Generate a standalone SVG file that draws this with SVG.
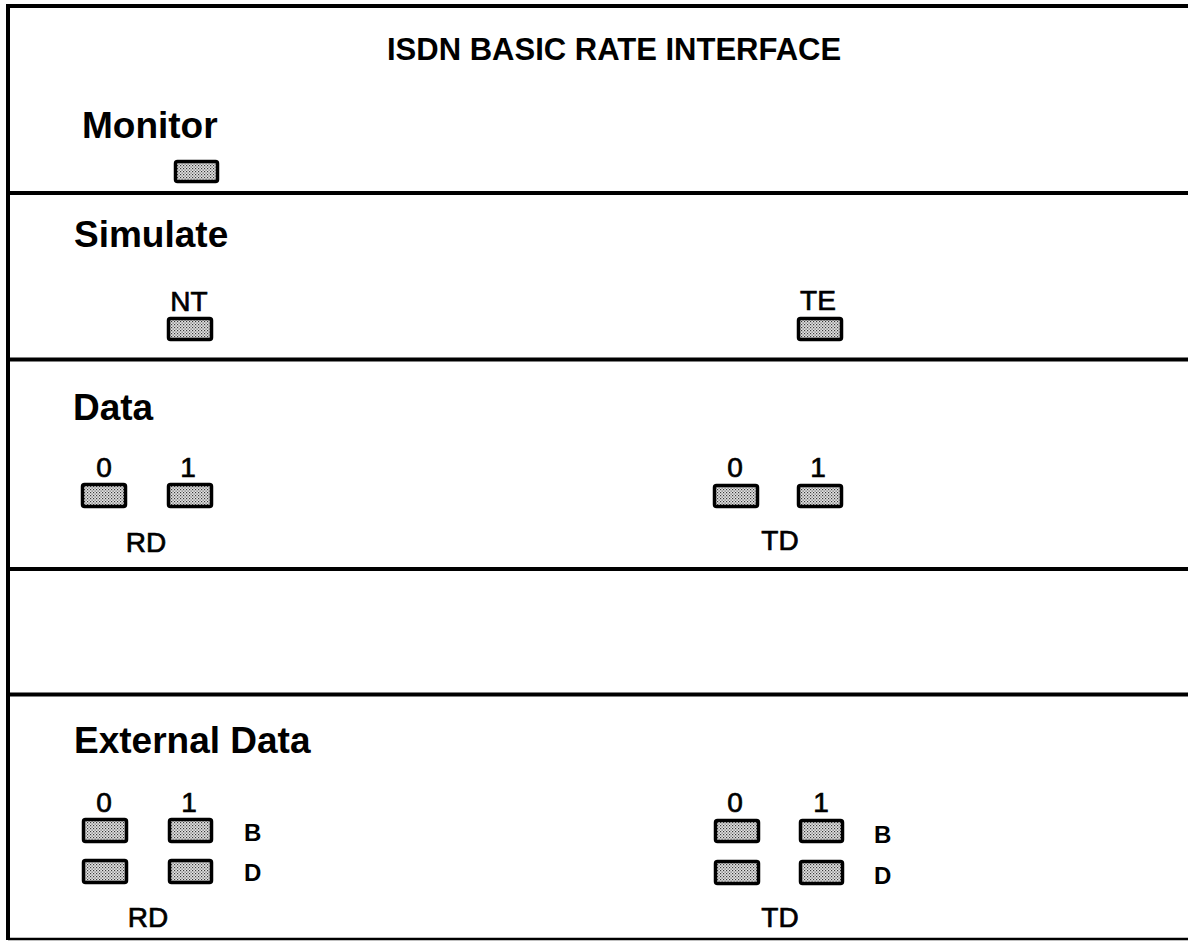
<svg xmlns="http://www.w3.org/2000/svg" width="1188" height="941" viewBox="0 0 1188 941">
  <defs>
    <pattern id="stip" width="3" height="3" patternUnits="userSpaceOnUse">
      <rect width="3" height="3" fill="#e4e4e4"/>
      <rect x="0" y="0" width="1.2" height="1.2" fill="#3a3a3a"/>
      <rect x="1.5" y="1.5" width="1.2" height="1.2" fill="#5a5a5a"/>
    </pattern>
  </defs>
  <style>
    .rule { stroke: #000; stroke-width: 4; fill: none; }
    .led { fill: url(#stip); stroke: #000; stroke-width: 3.5; }
    .title { font-family: "Liberation Sans", Arial, sans-serif; font-weight: bold; font-size: 31px; fill: #000; }
    .head { font-family: "Liberation Sans", Arial, sans-serif; font-weight: bold; font-size: 37px; fill: #000; }
    .lbl { font-family: "Liberation Sans", Arial, sans-serif; font-size: 28px; fill: #000; stroke: #000; stroke-width: 0.7; text-anchor: middle; }
    .sm { font-family: "Liberation Sans", Arial, sans-serif; font-weight: bold; font-size: 24px; fill: #000; }
  </style>
  <rect width="1188" height="941" fill="#fff"/>

  <g id="frame">
    <line class="rule" x1="8" y1="6" x2="1188" y2="6"/>
    <line class="rule" x1="8" y1="4" x2="8" y2="940"/>
    <line class="rule" x1="8" y1="193" x2="1188" y2="193"/>
    <line class="rule" x1="8" y1="359.5" x2="1188" y2="359.5"/>
    <line class="rule" x1="8" y1="569" x2="1188" y2="569"/>
    <line class="rule" x1="8" y1="694.5" x2="1188" y2="694.5"/>
    <line class="rule" x1="8" y1="939" x2="1188" y2="939" style="stroke-width:2.5"/>
  </g>

  <text id="title" class="title" x="387" y="60">ISDN BASIC RATE INTERFACE</text>

  <g id="monitor">
    <text class="head" x="82" y="138">Monitor</text>
    <rect class="led" x="175.5" y="161.5" width="42" height="20" rx="2"/>
  </g>

  <g id="simulate">
    <text class="head" x="74" y="247">Simulate</text>
    <g id="sim-nt">
      <text class="lbl" x="189" y="311">NT</text>
      <rect class="led" x="168.5" y="318.5" width="43" height="21" rx="2"/>
    </g>
    <g id="sim-te">
      <text class="lbl" x="818" y="310">TE</text>
      <rect class="led" x="798.5" y="318.5" width="43" height="21" rx="2"/>
    </g>
  </g>

  <g id="data">
    <text class="head" x="73" y="420">Data</text>
    <g id="data-rd">
      <text class="lbl" x="104" y="477">0</text>
      <text class="lbl" x="188" y="477">1</text>
      <rect class="led" x="82.5" y="484.5" width="43" height="22" rx="2"/>
      <rect class="led" x="168.5" y="484.5" width="43" height="22" rx="2"/>
      <text class="lbl" x="146" y="552">RD</text>
    </g>
    <g id="data-td">
      <text class="lbl" x="735" y="477">0</text>
      <text class="lbl" x="818" y="477">1</text>
      <rect class="led" x="714.5" y="485.5" width="43" height="21" rx="2"/>
      <rect class="led" x="798.5" y="485.5" width="43" height="21" rx="2"/>
      <text class="lbl" x="780" y="550">TD</text>
    </g>
  </g>

  <g id="external-data">
    <text class="head" x="74" y="753">External Data</text>
    <g id="ext-rd">
      <text class="lbl" x="104" y="812">0</text>
      <text class="lbl" x="189" y="812">1</text>
      <rect class="led" x="83.5" y="819.5" width="43" height="22" rx="2"/>
      <rect class="led" x="169.5" y="819.5" width="42" height="22" rx="2"/>
      <rect class="led" x="83.5" y="860.5" width="43" height="22" rx="2"/>
      <rect class="led" x="169.5" y="860.5" width="42" height="22" rx="2"/>
      <text class="sm" x="244" y="841">B</text>
      <text class="sm" x="244" y="881">D</text>
      <text class="lbl" x="148" y="927">RD</text>
    </g>
    <g id="ext-td">
      <text class="lbl" x="735" y="812">0</text>
      <text class="lbl" x="821" y="812">1</text>
      <rect class="led" x="715.5" y="820.5" width="43" height="21" rx="2"/>
      <rect class="led" x="800.5" y="820.5" width="42" height="21" rx="2"/>
      <rect class="led" x="715.5" y="861.5" width="43" height="22" rx="2"/>
      <rect class="led" x="800.5" y="861.5" width="42" height="22" rx="2"/>
      <text class="sm" x="874" y="843">B</text>
      <text class="sm" x="874" y="884">D</text>
      <text class="lbl" x="780" y="927">TD</text>
    </g>
  </g>

  <g id="connectors"/>
</svg>
